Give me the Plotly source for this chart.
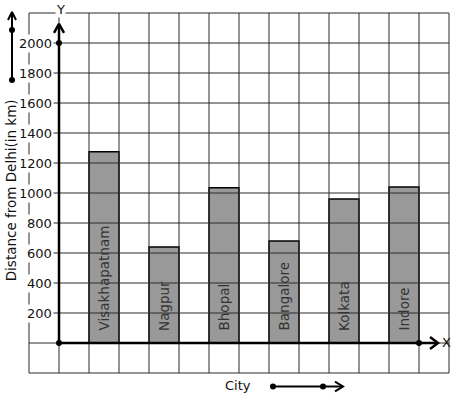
import plotly.graph_objects as go

# ---- data ----
cities = ["Visakhapatnam", "Nagpur", "Bhopal", "Bangalore", "Kolkata", "Indore"]
distances = [1275, 640, 1035, 680, 960, 1040]
y_tick_values = [200, 400, 600, 800, 1000, 1200, 1400, 1600, 1800, 2000]
y_tick_labels = ["200", "400", "600", "800", "1000", "1200", "1400", "1600", "1800", "2000"]
x_title = "City"
y_title = "Distance from Delhi(in km)"

FONT = "DejaVu Sans"
GRID = "#2b2b2b"
TXT = "#111111"

bar_x = [2 * i + 1.5 for i in range(len(cities))]

fig = go.Figure()

# grid (graph paper)
gx, gy = [], []
for xv in range(-1, 14):
    gx += [xv, xv, None]
    gy += [-200, 2200, None]
for yv in range(-200, 2201, 200):
    gx += [-1, 13, None]
    gy += [yv, yv, None]
fig.add_trace(go.Scatter(x=gx, y=gy, mode="lines", line=dict(color=GRID, width=1),
                         hoverinfo="skip", showlegend=False))

# bars
fig.add_trace(go.Bar(
    x=bar_x, y=distances, width=1,
    marker=dict(color="#999999", line=dict(color="black", width=1.5)),
    showlegend=False, hoverinfo="skip",
))

# axes with open arrowheads
axis_line = dict(color="black", width=2.5)
fig.add_trace(go.Scatter(x=[0, 0, None, -0.1667, 0, 0.1667], y=[0, 2127, None, 2067, 2127, 2067],
                         mode="lines", line=axis_line, showlegend=False, hoverinfo="skip"))
fig.add_trace(go.Scatter(x=[0, 12.633, None, 12.367, 12.633, 12.367], y=[0, 0, None, 40, 0, -40],
                         mode="lines", line=axis_line, showlegend=False, hoverinfo="skip"))
fig.add_trace(go.Scatter(x=[0, 0, 12], y=[0, 2000, 0], mode="markers",
                         marker=dict(color="black", size=6), showlegend=False, hoverinfo="skip"))

# title arrows
thin = dict(color="black", width=2)
fig.add_trace(go.Scatter(x=[-1.5667, -1.5667, None, -1.7, -1.5667, -1.433],
                         y=[1753, 2207, None, 2153, 2207, 2153],
                         mode="lines", line=thin, showlegend=False, hoverinfo="skip"))
fig.add_trace(go.Scatter(x=[-1.5667, -1.5667], y=[1753, 2087], mode="markers",
                         marker=dict(color="black", size=6), showlegend=False, hoverinfo="skip"))
fig.add_trace(go.Scatter(x=[7.133, 9.467, None, 9.2, 9.467, 9.2],
                         y=[-290, -290, None, -257, -290, -323],
                         mode="lines", line=thin, showlegend=False, hoverinfo="skip"))
fig.add_trace(go.Scatter(x=[7.133, 8.8], y=[-290, -290], mode="markers",
                         marker=dict(color="black", size=6), showlegend=False, hoverinfo="skip"))

annotations = []
for xb, name in zip(bar_x, cities):
    annotations.append(dict(x=xb, y=67, text=name, textangle=-90, showarrow=False,
                            xanchor="center", yanchor="bottom",
                            font=dict(family=FONT, size=13.5, color="#333333")))
for v, lab in zip(y_tick_values, y_tick_labels):
    annotations.append(dict(x=-0.1667, y=v, text=lab, showarrow=False, xanchor="right",
                            yanchor="middle", bgcolor="white", borderpad=1,
                            font=dict(family=FONT, size=13, color=TXT)))
annotations.append(dict(x=-1.59, y=1020, text=y_title, textangle=-90, showarrow=False,
                        bgcolor="white", font=dict(family=FONT, size=13.5, color=TXT)))
annotations.append(dict(x=5.967, y=-280, text=x_title, showarrow=False,
                        font=dict(family=FONT, size=13, color=TXT)))
annotations.append(dict(x=12.9, y=5, text="X", showarrow=False,
                        font=dict(family=FONT, size=13, color=TXT)))
annotations.append(dict(x=0.05, y=2222, text="Y", showarrow=False, bgcolor="white", borderpad=0,
                        font=dict(family=FONT, size=13, color=TXT)))

fig.update_layout(
    width=457, height=399,
    margin=dict(l=0, r=0, t=0, b=0),
    paper_bgcolor="white", plot_bgcolor="white",
    xaxis=dict(range=[-59 / 30, 398 / 30], visible=False, fixedrange=True),
    yaxis=dict(range=[-373.33, 2286.67], visible=False, fixedrange=True),
    annotations=annotations,
    font=dict(family=FONT),
)

# remove the page's default body margin so the figure fills the window
fig.write_html("out.html", config={"displayModeBar": False},
               post_script="document.body.style.margin='0';")
